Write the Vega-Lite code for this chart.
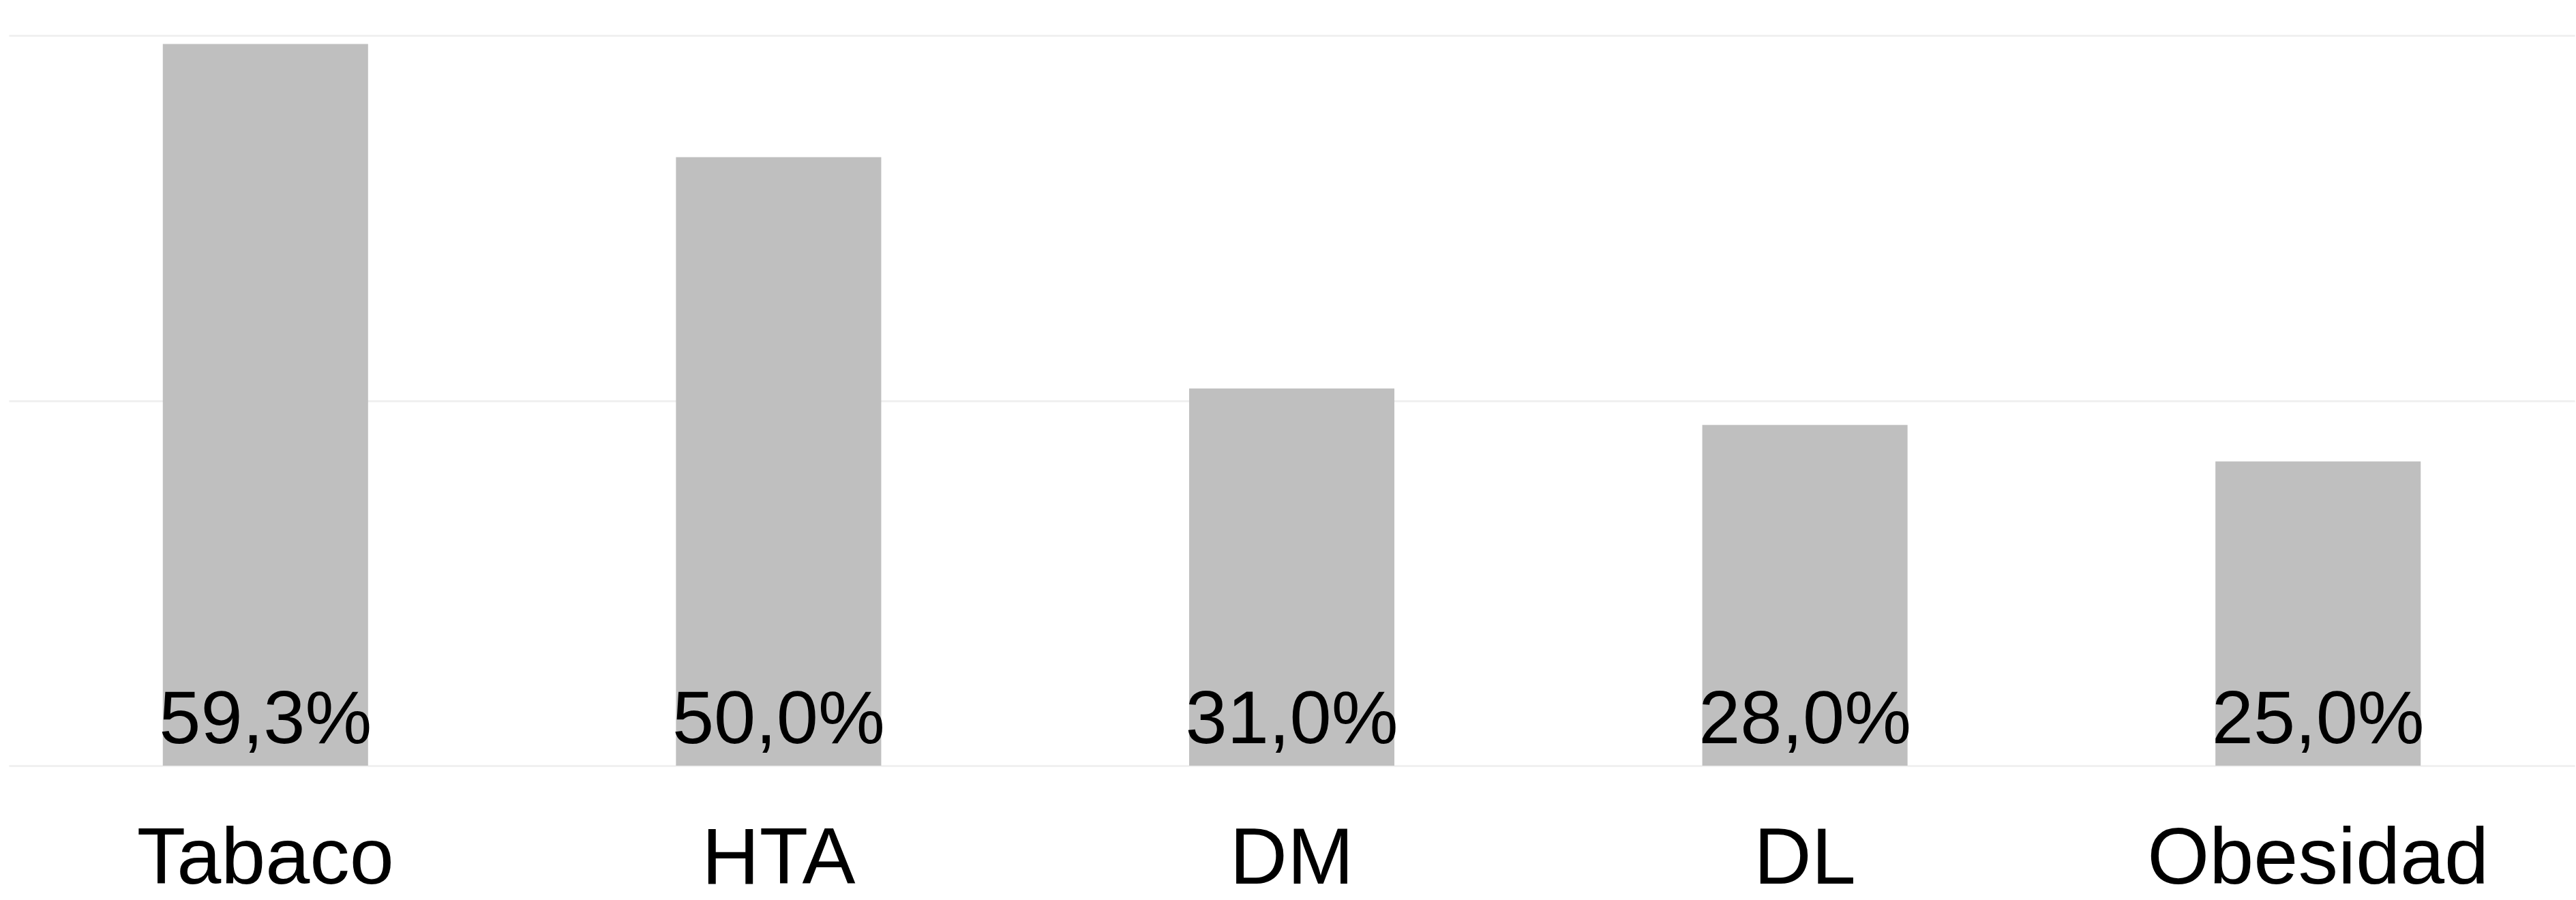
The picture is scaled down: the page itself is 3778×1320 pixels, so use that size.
{
  "$schema": "https://vega.github.io/schema/vega-lite/v6.json",
  "width": 3763,
  "height": 1071,
  "autosize": {"type": "none"},
  "padding": {"left": 13, "top": 52, "right": 2, "bottom": 197},
  "background": "white",
  "config": {
    "view": {"stroke": null},
    "locale": {"number": {"decimal": ",", "thousands": ".", "grouping": [3], "currency": ["", " €"]}}
  },
  "data": {
    "values": [
      {"factor": "Tabaco", "pct": 0.593},
      {"factor": "HTA", "pct": 0.5},
      {"factor": "DM", "pct": 0.31},
      {"factor": "DL", "pct": 0.28},
      {"factor": "Obesidad", "pct": 0.25}
    ]
  },
  "encoding": {
    "x": {
      "field": "factor",
      "type": "nominal",
      "sort": null,
      "scale": {"paddingInner": 0.6, "paddingOuter": 0.3},
      "axis": {
        "title": null,
        "domain": false,
        "ticks": false,
        "labelAngle": 0,
        "labelFont": "Liberation Sans",
        "labelFontSize": 117,
        "labelColor": "#000000",
        "labelPadding": 80,
        "labelLimit": 2000,
        "grid": false
      }
    }
  },
  "layer": [
    {
      "mark": {"type": "bar", "color": "#bfbfbf"},
      "encoding": {
        "y": {
          "field": "pct",
          "type": "quantitative",
          "scale": {"domain": [0, 0.6], "nice": false},
          "axis": {
            "title": null,
            "labels": false,
            "ticks": false,
            "domain": false,
            "values": [0, 0.3, 0.6],
            "grid": true,
            "gridColor": "#f0f0f0",
            "gridWidth": 3
          }
        }
      }
    },
    {
      "mark": {
        "type": "text",
        "font": "Liberation Sans",
        "fontSize": 110,
        "color": "#000000",
        "baseline": "alphabetic",
        "dy": -33
      },
      "encoding": {
        "y": {"datum": 0, "type": "quantitative"},
        "text": {"field": "pct", "type": "quantitative", "format": ".1%"}
      }
    }
  ]
}
